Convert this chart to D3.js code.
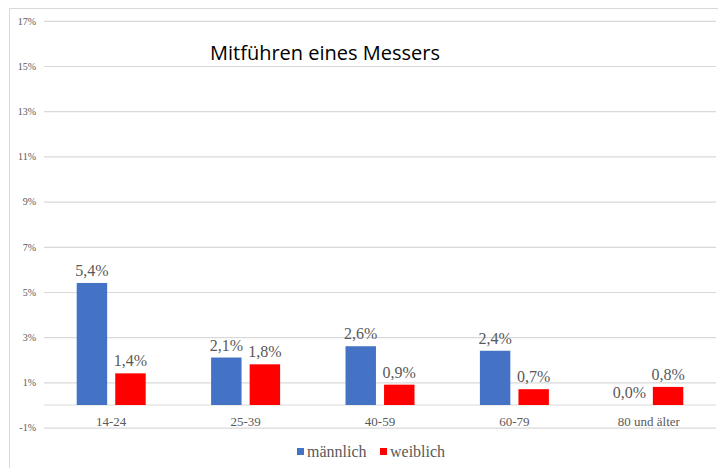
<!DOCTYPE html>
<html>
<head>
<meta charset="utf-8">
<script src="https://cdn.jsdelivr.net/npm/d3@7"></script>
<style>
  body { margin: 0; background: #fff; }
  .tick text { font-family: "Liberation Serif", serif; fill: #595959; }
  .value { font-family: "Liberation Serif", serif; font-size: 16px; fill: #595959; }
  .title { font-family: "Open Sans", sans-serif; font-size: 20px; fill: #000; }
  .legend text { font-family: "Liberation Serif", serif; font-size: 16px; fill: #595959; }
</style>
</head>
<body>
<svg width="718" height="468"></svg>
<script>
// data
var ageGroups = ["14-24", "25-39", "40-59", "60-79", "80 und älter"];
var seriesNames = ["männlich", "weiblich"];
var maleValues = [5.4, 2.1, 2.6, 2.4, 0.0];
var femaleValues = [1.4, 1.8, 0.9, 0.7, 0.8];
var yTicks = [-1, 1, 3, 5, 7, 9, 11, 13, 15, 17];

var colors = {"männlich": "#4472C4", "weiblich": "#FF0000"};
var fmt = function(v) { return v.toFixed(1).replace(".", ",") + "%"; };

var data = ageGroups.map(function(g, i) {
  return {group: g, values: [
    {key: "männlich", value: maleValues[i]},
    {key: "weiblich", value: femaleValues[i]}
  ]};
});

var svg = d3.select("svg");

// chart frame (only left and top edge visible)
svg.append("line")
    .attr("x1", 9.5).attr("x2", 9.5).attr("y1", 8).attr("y2", 468)
    .attr("stroke", "#d9d9d9");
svg.append("line")
    .attr("x1", 9).attr("x2", 718).attr("y1", 8.5).attr("y2", 8.5)
    .attr("stroke", "#d9d9d9");

// scales
var x0 = d3.scaleBand().domain(ageGroups).range([44, 716]);
var x1 = d3.scaleBand().domain(seriesNames)
    .range([(x0.bandwidth() - 69) / 2, (x0.bandwidth() + 69) / 2])
    .paddingInner(0.21);
var y = d3.scaleLinear().domain([-1, 17]).range([427.6, 20.8]);

// y axis with gridlines
var yAxis = svg.append("g")
    .attr("transform", "translate(44,0)")
    .call(d3.axisLeft(y).tickValues(yTicks).tickSize(-672).tickPadding(8)
      .tickFormat(function(d) { return d + "%"; }));
yAxis.select(".domain").remove();
yAxis.selectAll(".tick line").attr("stroke", "#d9d9d9").attr("stroke-width", 1.2);
yAxis.selectAll(".tick text").attr("font-size", 10);

// zero baseline
svg.append("line")
    .attr("x1", 44).attr("x2", 716)
    .attr("y1", y(0)).attr("y2", y(0))
    .attr("stroke", "#d9d9d9").attr("stroke-width", 1.2);

// x axis labels
var xAxis = svg.append("g")
    .attr("transform", "translate(0," + y(0) + ")")
    .call(d3.axisBottom(x0).tickSize(0).tickPadding(12));
xAxis.select(".domain").remove();
xAxis.selectAll(".tick text").attr("font-size", 13);

// title
svg.append("text")
    .attr("class", "title")
    .attr("x", 210)
    .attr("y", 60)
    .text("Mitführen eines Messers");

// bars
var groups = svg.append("g").selectAll(".group")
    .data(data)
  .enter().append("g")
    .attr("class", "group")
    .attr("transform", function(d) { return "translate(" + x0(d.group) + ",0)"; });

groups.selectAll("rect")
    .data(function(d) { return d.values; })
  .enter().append("rect")
    .attr("x", function(d) { return x1(d.key); })
    .attr("y", function(d) { return y(d.value); })
    .attr("width", x1.bandwidth())
    .attr("height", function(d) { return y(0) - y(d.value); })
    .attr("fill", function(d) { return colors[d.key]; });

// value labels
groups.selectAll(".value")
    .data(function(d) { return d.values; })
  .enter().append("text")
    .attr("class", "value")
    .attr("x", function(d) { return x1(d.key) + x1.bandwidth() / 2; })
    .attr("y", function(d) { return y(d.value) - 7; })
    .attr("text-anchor", "middle")
    .text(function(d) { return fmt(d.value); });

// legend
var legend = svg.append("g").attr("class", "legend");
var legendX = [297, 380];
seriesNames.forEach(function(s, i) {
  legend.append("rect")
      .attr("x", legendX[i]).attr("y", 448)
      .attr("width", 7).attr("height", 7)
      .attr("fill", colors[s]);
  legend.append("text")
      .attr("x", legendX[i] + 10).attr("y", 457)
      .text(s);
});
</script>
</body>
</html>
